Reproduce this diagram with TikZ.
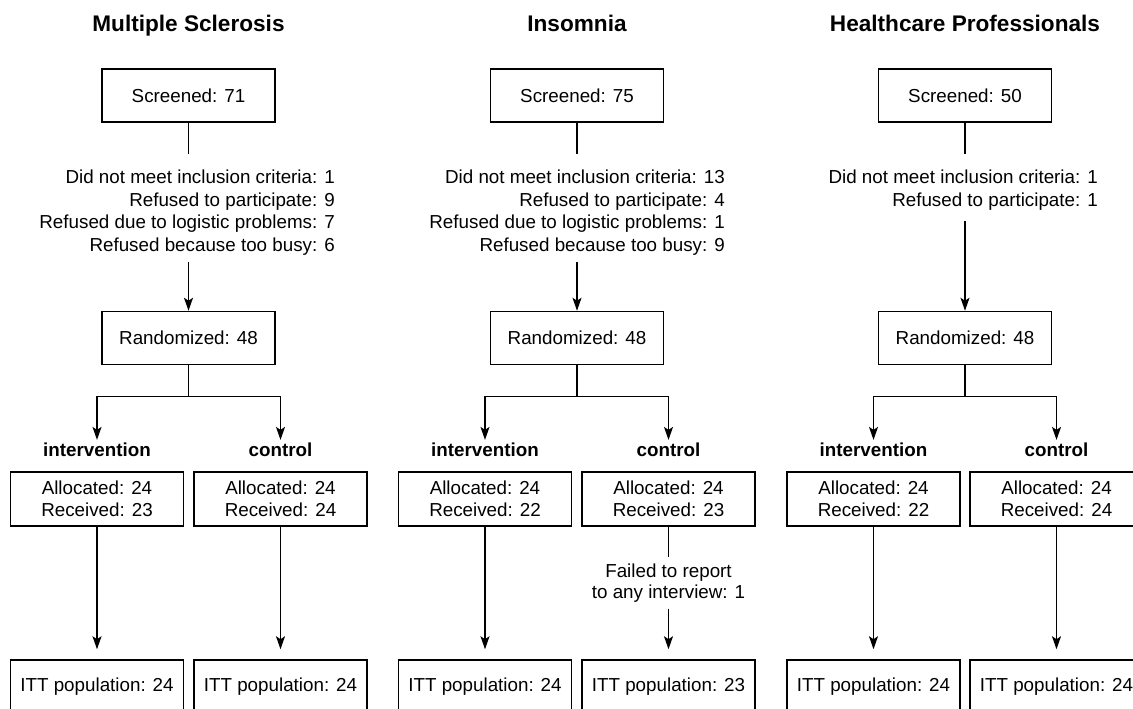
\documentclass[tikz,border=0pt]{standalone}
\usepackage{fontspec}
\setmainfont{Liberation Sans}
\usetikzlibrary{arrows.meta}
\begin{document}
\begin{tikzpicture}[x=1pt,y=-1pt,
  box/.style={draw,line width=1.5pt,minimum width=173pt,minimum height=53pt,inner sep=0pt,align=center,font=\fontsize{18.8}{22.5}\selectfont},
  lbl/.style={inner sep=0pt,align=right,font=\fontsize{18.8}{22.5}\selectfont},
  flab/.style={inner xsep=0pt,inner ysep=6pt,align=center,font=\fontsize{18.8}{21.5}\selectfont},
  grp/.style={inner xsep=0pt,inner ysep=3pt,font=\fontsize{18.8}{22.5}\selectfont\bfseries},
  ttl/.style={inner sep=0pt,anchor=base,font=\fontsize{22.6}{27}\selectfont\bfseries},
  conn/.style={line width=1.5pt},
  arr/.style={line width=1.5pt,-{Stealth[length=13pt,width=9pt,inset=3pt]}}]
\useasboundingbox (0,0) rectangle (1133,709);

% ---------- Multiple Sclerosis ----------
\node[ttl] (t1) at (188.5,32) {Multiple Sclerosis};
\node[box] (s1) at (188.5,95.5) {Screened: 71};
\node[lbl,anchor=east] (e1) at (335,212.5) {Did not meet inclusion criteria: 1\\Refused to participate: 9\\Refused due to logistic problems: 7\\Refused because too busy: 6};
\coordinate (e1a) at (188.5,154);
\coordinate (e1b) at (188.5,262);
\node[box] (r1) at (188.5,338) {Randomized: 48};
\node[grp] (i1) at (97,450) {intervention};
\node[grp] (c1) at (280.5,450) {control};
\node[box,minimum height=54pt] (ai1) at (97,499) {Allocated: 24\\Received: 23};
\node[box,minimum height=54pt] (ac1) at (280.5,499) {Allocated: 24\\Received: 24};
\node[box] (ti1) at (97,686.5) {ITT population: 24};
\node[box] (tc1) at (280.5,686.5) {ITT population: 24};
\draw[conn] (s1.south) -- (e1a);
\draw[arr] (e1b) -- (r1.north);
\draw[arr] (r1.south) -- ++(0,31) -| (i1.north);
\draw[arr] (r1.south) -- ++(0,31) -| (c1.north);
\draw[arr,shorten >=10pt] (ai1.south) -- (ti1.north);
\draw[arr,shorten >=10pt] (ac1.south) -- (tc1.north);

% ---------- Insomnia ----------
\node[ttl] (t2) at (577,32) {Insomnia};
\node[box] (s2) at (577,95.5) {Screened: 75};
\node[lbl,anchor=east] (e2) at (725,212.5) {Did not meet inclusion criteria: 13\\Refused to participate: 4\\Refused due to logistic problems: 1\\Refused because too busy: 9};
\coordinate (e2a) at (577,154);
\coordinate (e2b) at (577,262);
\node[box] (r2) at (577,338) {Randomized: 48};
\node[grp] (i2) at (485,450) {intervention};
\node[grp] (c2) at (668.5,450) {control};
\node[box,minimum height=54pt] (ai2) at (485,499) {Allocated: 24\\Received: 22};
\node[box,minimum height=54pt] (ac2) at (668.5,499) {Allocated: 24\\Received: 23};
\node[flab] (f2) at (668.5,583) {Failed to report\\to any interview: 1};
\node[box] (ti2) at (485,686.5) {ITT population: 24};
\node[box] (tc2) at (668.5,686.5) {ITT population: 23};
\draw[conn] (s2.south) -- (e2a);
\draw[arr] (e2b) -- (r2.north);
\draw[arr] (r2.south) -- ++(0,31) -| (i2.north);
\draw[arr] (r2.south) -- ++(0,31) -| (c2.north);
\draw[arr,shorten >=10pt] (ai2.south) -- (ti2.north);
\draw[conn] (ac2.south) -- (f2.north);
\draw[arr,shorten >=10pt] (f2.south) -- (tc2.north);

% ---------- Healthcare Professionals ----------
\node[ttl] (t3) at (965,32) {Healthcare Professionals};
\node[box] (s3) at (965,95.5) {Screened: 50};
\node[lbl,anchor=east] (e3) at (1098,190) {Did not meet inclusion criteria: 1\\Refused to participate: 1};
\coordinate (e3a) at (965,154);
\coordinate (e3b) at (965,221);
\node[box] (r3) at (965,338) {Randomized: 48};
\node[grp] (i3) at (873.5,450) {intervention};
\node[grp] (c3) at (1056.5,450) {control};
\node[box,minimum height=54pt] (ai3) at (873.5,499) {Allocated: 24\\Received: 22};
\node[box,minimum height=54pt] (ac3) at (1056.5,499) {Allocated: 24\\Received: 24};
\node[box] (ti3) at (873.5,686.5) {ITT population: 24};
\node[box] (tc3) at (1056.5,686.5) {ITT population: 24};
\draw[conn] (s3.south) -- (e3a);
\draw[arr] (e3b) -- (r3.north);
\draw[arr] (r3.south) -- ++(0,31) -| (i3.north);
\draw[arr] (r3.south) -- ++(0,31) -| (c3.north);
\draw[arr,shorten >=10pt] (ai3.south) -- (ti3.north);
\draw[arr,shorten >=10pt] (ac3.south) -- (tc3.north);
\end{tikzpicture}
\end{document}
